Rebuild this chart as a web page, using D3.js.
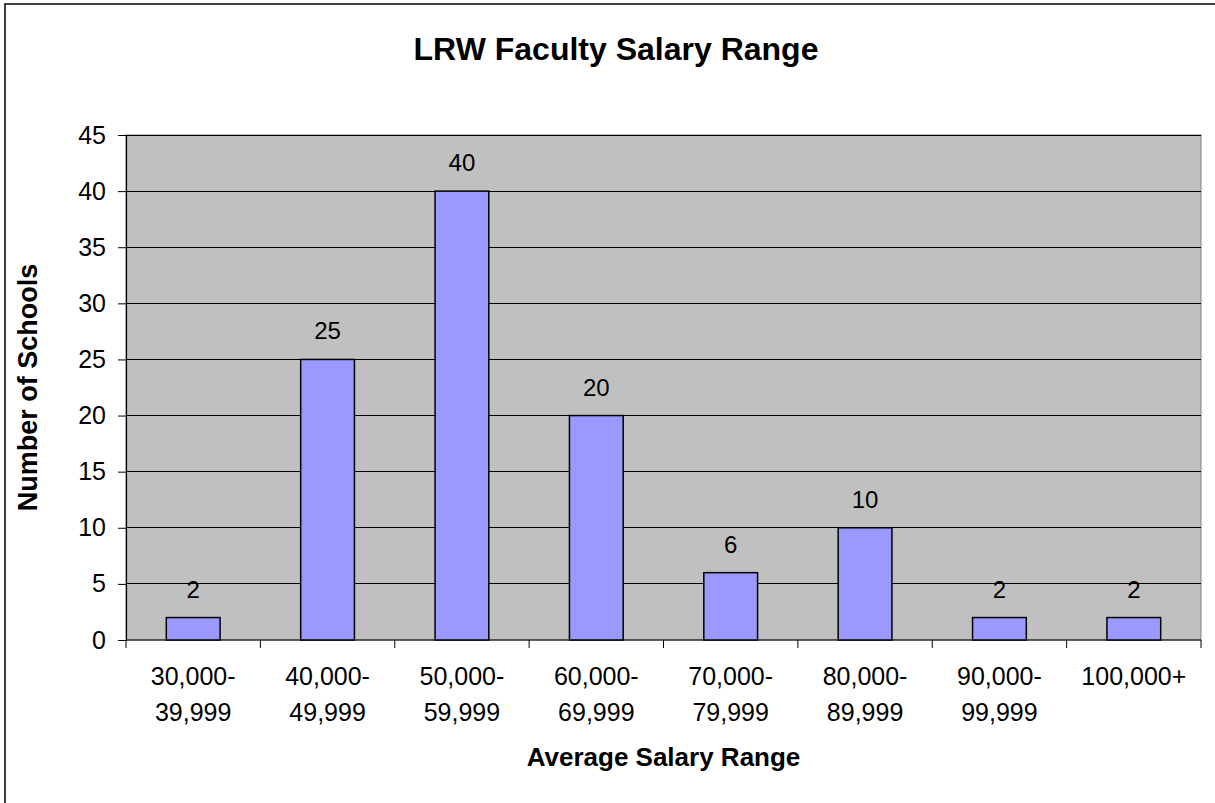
<!DOCTYPE html>
<meta charset="utf-8">
<style>
	body { margin: 0; background: #fff; }
	svg text { font-family: "Liberation Sans", Arial, Helvetica, sans-serif; fill: #000; }
</style>
<body>
<script src="https://d3js.org/d3.v7.min.js"></script>
<script>

	// data
	var categories = ["30,000-39,999", "40,000-49,999", "50,000-59,999", "60,000-69,999",
		"70,000-79,999", "80,000-89,999", "90,000-99,999", "100,000+"];
	var labelTop = ["30,000-", "40,000-", "50,000-", "60,000-", "70,000-", "80,000-", "90,000-", "100,000+"];
	var labelBottom = ["39,999", "49,999", "59,999", "69,999", "79,999", "89,999", "99,999", ""];
	var schools = [2, 25, 40, 20, 6, 10, 2, 2];
	var yTicks = [0, 5, 10, 15, 20, 25, 30, 35, 40, 45];

	var W = 1215, H = 803;
	var plot = {left: 126, right: 1201, top: 135, bottom: 640};

	var svg = d3.select("body").append("svg")
		.attr("width", W)
		.attr("height", H);

	// chart area border (runs off the right/bottom of the picture)
	svg.append("rect")
		.attr("x", 5).attr("y", 4)
		.attr("width", 1222).attr("height", 812)
		.attr("fill", "#fff")
		.attr("stroke", "#000")
		.attr("stroke-width", 1.5);

	var x = d3.scaleBand()
		.domain(categories)
		.range([plot.left, plot.right])
		.paddingInner(0.6)
		.paddingOuter(0.3);

	var y = d3.scaleLinear()
		.domain([0, 45])
		.range([plot.bottom, plot.top]);

	// plot background
	svg.append("rect")
		.attr("x", plot.left).attr("y", plot.top)
		.attr("width", plot.right - plot.left)
		.attr("height", plot.bottom - plot.top)
		.attr("fill", "#c0c0c0")
		.attr("stroke", "#808080")
		.attr("stroke-width", 1);

	// gridlines
	svg.append("g")
		.selectAll("line")
		.data(yTicks.filter(function(d) { return d > 0; }))
		.enter().append("line")
		.attr("x1", plot.left).attr("x2", plot.right)
		.attr("y1", function(d) { return y(d); })
		.attr("y2", function(d) { return y(d); })
		.attr("stroke", "#000")
		.attr("stroke-width", 1)
		.attr("shape-rendering", "crispEdges");

	// y axis
	var yAxis = d3.axisLeft(y)
		.tickValues(yTicks)
		.tickSize(8)
		.tickPadding(12);

	var gY = svg.append("g")
		.attr("transform", "translate(" + plot.left + ",0)")
		.call(yAxis);
	gY.select(".domain").attr("stroke", "#000").attr("stroke-width", 1.2);
	gY.selectAll(".tick line").attr("stroke", "#000");
	gY.selectAll("text")
		.style("font-size", "25px")
		.attr("fill", "#000");

	// x axis: ticks at category boundaries
	var step = x.step();
	var edges = d3.range(categories.length + 1).map(function(i) { return plot.left + i * step; });

	svg.append("line")
		.attr("x1", plot.left).attr("x2", plot.right)
		.attr("y1", plot.bottom).attr("y2", plot.bottom)
		.attr("stroke", "#000")
		.attr("stroke-width", 1.2);

	svg.append("g")
		.selectAll("line")
		.data(edges)
		.enter().append("line")
		.attr("x1", function(d) { return d; })
		.attr("x2", function(d) { return d; })
		.attr("y1", plot.bottom)
		.attr("y2", plot.bottom + 8)
		.attr("stroke", "#000")
		.attr("stroke-width", 1);

	var xLabels = svg.append("g")
		.selectAll("text")
		.data(categories)
		.enter().append("text")
		.attr("text-anchor", "middle")
		.style("font-size", "25px");
	xLabels.append("tspan")
		.attr("x", function(d) { return x(d) + x.bandwidth() / 2; })
		.attr("y", 685)
		.text(function(d, i) { return labelTop[i]; });
	xLabels.append("tspan")
		.attr("x", function(d) { return x(d) + x.bandwidth() / 2; })
		.attr("y", 721)
		.text(function(d, i) { return labelBottom[i]; });

	// bars
	svg.selectAll(".bar")
		.data(categories)
		.enter().append("rect")
		.attr("class", "bar")
		.attr("x", function(d) { return x(d); })
		.attr("width", x.bandwidth())
		.attr("y", function(d, i) { return y(schools[i]); })
		.attr("height", function(d, i) { return plot.bottom - y(schools[i]); })
		.attr("fill", "#9999ff")
		.attr("stroke", "#000")
		.attr("stroke-width", 1.5);

	// value labels
	svg.selectAll(".val")
		.data(categories)
		.enter().append("text")
		.attr("class", "val")
		.attr("x", function(d) { return x(d) + x.bandwidth() / 2; })
		.attr("y", function(d, i) { return y(schools[i]) - 20; })
		.attr("text-anchor", "middle")
		.style("font-size", "24px")
		.text(function(d, i) { return schools[i]; });

	// titles
	svg.append("text")
		.attr("x", 616)
		.attr("y", 60)
		.attr("text-anchor", "middle")
		.style("font-size", "32px")
		.style("font-weight", "bold")
		.text("LRW Faculty Salary Range");

	svg.append("text")
		.attr("x", (plot.left + plot.right) / 2)
		.attr("y", 766)
		.attr("text-anchor", "middle")
		.style("font-size", "26px")
		.style("font-weight", "bold")
		.text("Average Salary Range");

	svg.append("text")
		.attr("transform", "translate(37," + ((plot.top + plot.bottom) / 2) + ") rotate(-90)")
		.attr("text-anchor", "middle")
		.style("font-size", "27px")
		.style("font-weight", "bold")
		.text("Number of Schools");

</script>
</body>
